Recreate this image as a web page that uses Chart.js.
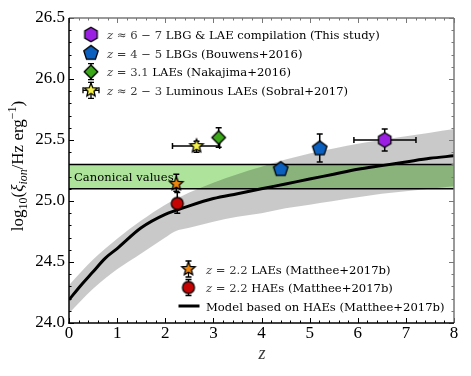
<!DOCTYPE html>
<html lang="en">
<head>
  <meta charset="UTF-8" />
  <title>Ionising photon production efficiency vs redshift</title>
  <script src="https://cdn.jsdelivr.net/npm/chart.js"></script>
  <style>
    body { margin: 0; background: #fff; }
    canvas { display: block; }
  </style>
</head>
<body>
  <canvas id="xiChart" width="471" height="376"></canvas>

  <script>
    // --- data ---
    const xTicks = [0, 1, 2, 3, 4, 5, 6, 7, 8];
    const yTicks = [24.0, 24.5, 25.0, 25.5, 26.0, 26.5];

    // model based on HAEs (Matthee+2017b)
    const modelZ = [0, 0.25, 0.5, 0.75, 1, 1.5, 2, 2.5, 3, 3.5, 4, 4.5, 5, 5.5, 6, 6.5, 7, 7.5, 8];
    const modelXi = [24.19, 24.31, 24.42, 24.53, 24.61, 24.78, 24.89, 24.96, 25.02, 25.06, 25.10, 25.14, 25.18, 25.22, 25.26, 25.29, 25.32, 25.35, 25.37];

    // grey uncertainty band around the model
    const bandZ = [0, 0.5, 1, 1.5, 2, 2.2, 2.5, 3, 3.5, 4, 4.5, 5, 5.5, 6, 6.5, 7, 7.5, 8];
    const bandUpper = [24.31, 24.52, 24.69, 24.84, 24.97, 25.01, 25.07, 25.15, 25.22, 25.28, 25.34, 25.39, 25.43, 25.47, 25.50, 25.53, 25.56, 25.59];
    const bandLower = [24.08, 24.28, 24.44, 24.57, 24.70, 24.75, 24.78, 24.83, 24.87, 24.90, 24.94, 24.97, 25.00, 25.03, 25.06, 25.08, 25.10, 25.12];

    // canonical values band
    const canonical = [25.1, 25.3];

    // measurements: z, log xi, and error ranges
    const lbgLae = [{ x: 6.56, y: 25.50, xMin: 5.92, xMax: 7.21, yMin: 25.41, yMax: 25.59 }];
    const lbgBouwens = [
      { x: 4.40, y: 25.26 },
      { x: 5.21, y: 25.43, yMin: 25.32, yMax: 25.55 }
    ];
    const laeNakajima = [{ x: 3.11, y: 25.52, yMin: 25.44, yMax: 25.60 }];
    const laeSobral = [{ x: 2.65, y: 25.45, xMin: 2.15, xMax: 3.13, yMin: 25.40, yMax: 25.49 }];
    const laeMatthee = [{ x: 2.23, y: 25.14, yMin: 25.08, yMax: 25.22 }];
    const haeMatthee = [{ x: 2.25, y: 24.98, yMin: 24.90, yMax: 25.07 }];

    const SERIF = '"Liberation Serif", "DejaVu Serif", serif';
    const TXT = '"DejaVu Serif", serif';
    const TXT_SIZE = 11.6;

    // marker images (hexagon, pentagon, star... are not built in)
    function polyMarker(n, r, fill, inner) {
      const s = Math.ceil(2 * r + 4);
      const c = document.createElement('canvas');
      c.width = s; c.height = s;
      const g = c.getContext('2d');
      g.translate(s / 2, s / 2);
      g.beginPath();
      if (n === 0) {
        g.arc(0, 0, r, 0, Math.PI * 2);
      } else {
        const pts = inner ? n * 2 : n;
        for (let i = 0; i < pts; i++) {
          const a = -Math.PI / 2 + i * Math.PI * 2 / pts;
          const rr = inner && i % 2 ? r * inner : r;
          g.lineTo(rr * Math.cos(a), rr * Math.sin(a));
        }
        g.closePath();
      }
      g.fillStyle = fill;
      g.fill();
      g.lineWidth = 1.3;
      g.strokeStyle = '#000';
      g.stroke();
      return c;
    }

    const mHex = polyMarker(6, 7.2, '#9b1fe3');
    const mPent = polyMarker(5, 7.6, '#0b5fbf');
    const mDiam = polyMarker(4, 6.8, '#3aa818');
    const mStarY = polyMarker(5, 7, '#f4f24a', 0.45);
    const mStarO = polyMarker(5, 7, '#ec860e', 0.45);
    const mCirc = polyMarker(0, 6, '#c60404');

    function pointSet(data, img) {
      return {
        type: 'scatter', data: data, pointStyle: img, errorBars: true,
        pointRadius: 7, pointHoverRadius: 7, showLine: false, order: 0
      };
    }

    function lineSet(xs, ys, extra) {
      return Object.assign({
        type: 'line',
        data: xs.map((x, i) => ({ x: x, y: ys[i] })),
        pointRadius: 0, pointHoverRadius: 0, tension: 0, borderWidth: 0
      }, extra);
    }

    // error bars, drawn just below the markers of each dataset
    const errorBarPlugin = {
      id: 'errorBars',
      beforeDatasetDraw(chart, args) {
        const ds = chart.data.datasets[args.index];
        if (!ds.errorBars) return;
        const xs = chart.scales.x, ys = chart.scales.y, ctx = chart.ctx;
        ctx.save();
        ctx.strokeStyle = '#000';
        ctx.lineWidth = 1.5;
        const cap = 3;
        ds.data.forEach(p => {
          const px = xs.getPixelForValue(p.x), py = ys.getPixelForValue(p.y);
          ctx.beginPath();
          if (p.yMin !== undefined) {
            const t = ys.getPixelForValue(p.yMax), b = ys.getPixelForValue(p.yMin);
            ctx.moveTo(px, t); ctx.lineTo(px, b);
            ctx.moveTo(px - cap, t); ctx.lineTo(px + cap, t);
            ctx.moveTo(px - cap, b); ctx.lineTo(px + cap, b);
          }
          if (p.xMin !== undefined) {
            const l = xs.getPixelForValue(p.xMin), r = xs.getPixelForValue(p.xMax);
            ctx.moveTo(l, py); ctx.lineTo(r, py);
            ctx.moveTo(l, py - cap); ctx.lineTo(l, py + cap);
            ctx.moveTo(r, py - cap); ctx.lineTo(r, py + cap);
          }
          ctx.stroke();
        });
        ctx.restore();
      }
    };

    // mixed text: upright / italic / sub / superscript pieces
    function fontOf(s, size, fam) {
      return (s.it ? 'italic ' : '') + (size * (s.k || 1)) + 'px ' + fam;
    }
    function richWidth(ctx, segs, size, fam) {
      let w = 0;
      segs.forEach(s => {
        ctx.font = fontOf(s, size, fam);
        w += ctx.measureText(s.t).width;
      });
      return w;
    }
    function drawRich(ctx, x, y, segs, size, fam) {
      ctx.textBaseline = 'alphabetic';
      ctx.textAlign = 'left';
      segs.forEach(s => {
        ctx.font = fontOf(s, size, fam);
        ctx.fillStyle = s.c || '#000';
        ctx.fillText(s.t, x, y + (s.dy || 0));
        x += ctx.measureText(s.t).width;
      });
    }

    const MATH = '#3a3a3a';
    const legendTop = [
      { img: mHex, segs: [{ t: 'z', it: true, c: MATH }, { t: ' ≈ 6 − 7 ', c: MATH }, { t: 'LBG & LAE compilation (This study)' }] },
      { img: mPent, segs: [{ t: 'z', it: true, c: MATH }, { t: ' = 4 − 5 ', c: MATH }, { t: 'LBGs (Bouwens+2016)' }] },
      { img: mDiam, ey: true, segs: [{ t: 'z', it: true, c: MATH }, { t: ' = 3.1 ', c: MATH }, { t: 'LAEs (Nakajima+2016)' }] },
      { img: mStarY, ey: true, ex: true, segs: [{ t: 'z', it: true, c: MATH }, { t: ' ≈ 2 − 3 ', c: MATH }, { t: 'Luminous LAEs (Sobral+2017)' }] }
    ];
    const legendBottom = [
      { img: mStarO, ey: true, segs: [{ t: 'z', it: true, c: MATH }, { t: ' = 2.2 ', c: MATH }, { t: 'LAEs (Matthee+2017b)' }] },
      { img: mCirc, ey: true, segs: [{ t: 'z', it: true, c: MATH }, { t: ' = 2.2 ', c: MATH }, { t: 'HAEs (Matthee+2017b)' }] },
      { line: true, segs: [{ t: 'Model based on HAEs (Matthee+2017b)' }] }
    ];

    function drawLegend(ctx, items, mx, tx, y0, dy) {
      items.forEach((it, i) => {
        const y = y0 + i * dy;
        ctx.save();
        ctx.strokeStyle = '#000';
        if (it.line) {
          ctx.lineWidth = 3;
          ctx.beginPath(); ctx.moveTo(mx - 10, y); ctx.lineTo(mx + 11, y); ctx.stroke();
        } else {
          ctx.lineWidth = 1.3;
          ctx.beginPath();
          if (it.ey) {
            ctx.moveTo(mx, y - 8); ctx.lineTo(mx, y + 8);
            ctx.moveTo(mx - 3, y - 8); ctx.lineTo(mx + 3, y - 8);
            ctx.moveTo(mx - 3, y + 8); ctx.lineTo(mx + 3, y + 8);
          }
          if (it.ex) {
            ctx.moveTo(mx - 8, y); ctx.lineTo(mx + 8, y);
            ctx.moveTo(mx - 8, y - 3); ctx.lineTo(mx - 8, y + 3);
            ctx.moveTo(mx + 8, y - 3); ctx.lineTo(mx + 8, y + 3);
          }
          ctx.stroke();
          ctx.drawImage(it.img, mx - it.img.width / 2, y - it.img.height / 2);
        }
        ctx.restore();
        drawRich(ctx, tx, y + 4.5, it.segs, TXT_SIZE, TXT);
      });
    }

    // frame, inward ticks, labels and legends
    const decorPlugin = {
      id: 'decor',
      afterDraw(chart) {
        const ctx = chart.ctx, a = chart.chartArea;
        const xs = chart.scales.x, ys = chart.scales.y;
        ctx.save();

        // "Canonical values"
        ctx.font = TXT_SIZE + 'px ' + TXT;
        ctx.fillStyle = '#000';
        ctx.textBaseline = 'middle';
        ctx.fillText('Canonical values', 74, ys.getPixelForValue(25.2) + 1);

        // ticks
        function tick(x1, y1, x2, y2, col) {
          ctx.strokeStyle = col;
          ctx.beginPath(); ctx.moveTo(x1, y1); ctx.lineTo(x2, y2); ctx.stroke();
        }
        ctx.lineWidth = 1;
        for (let v = 0; v <= 8.0001; v += 0.2) {
          const px = Math.round(xs.getPixelForValue(v)) + 0.5;
          const major = Math.abs(v - Math.round(v)) < 1e-6;
          const len = major ? 5 : 2.5;
          tick(px, a.bottom, px, a.bottom - len, '#000');
          tick(px, a.top, px, a.top + len, '#777');
        }
        for (let v = 24; v <= 26.5001; v += 0.1) {
          const py = Math.round(ys.getPixelForValue(v)) + 0.5;
          const major = Math.abs(v * 2 - Math.round(v * 2)) < 1e-6;
          const len = major ? 5 : 2.5;
          tick(a.left, py, a.left + len, py, '#000');
          tick(a.right, py, a.right - len, py, '#777');
        }

        // spines
        ctx.lineWidth = 1.5;
        tick(a.left, a.top, a.right, a.top, '#777');
        tick(a.right, a.top, a.right, a.bottom, '#777');
        tick(a.left, a.top, a.left, a.bottom + 0.75, '#000');
        tick(a.left - 0.75, a.bottom, a.right, a.bottom, '#000');

        // axis titles
        ctx.fillStyle = '#000';
        drawRich(ctx, (a.left + a.right) / 2 - 3, 359, [{ t: 'z', it: true, c: MATH }], 18, SERIF);
        const ySegs = [
          { t: 'log' }, { t: '10', k: 0.7, dy: 4 }, { t: '(' }, { t: 'ξ', it: true },
          { t: 'ion', it: true, k: 0.7, dy: 4 }, { t: '/Hz erg' }, { t: '−1', k: 0.7, dy: -7 }, { t: ')' }
        ];
        ctx.translate(18, 166);
        ctx.rotate(-Math.PI / 2);
        const w = richWidth(ctx, ySegs, 17, SERIF);
        drawRich(ctx, -w / 2, 5, ySegs, 17, SERIF);
        ctx.restore();

        drawLegend(ctx, legendTop, 91, 107, 34.5, 18.6);
        drawLegend(ctx, legendBottom, 188.5, 206, 269, 18.5);
      }
    };

    const datasets = [
      pointSet(lbgLae, mHex),
      pointSet(lbgBouwens, mPent),
      pointSet(laeNakajima, mDiam),
      pointSet(laeSobral, mStarY),
      pointSet(laeMatthee, mStarO),
      pointSet(haeMatthee, mCirc),
      lineSet(modelZ, modelXi, { borderColor: '#000', borderWidth: 3, fill: false, order: 10, cubicInterpolationMode: 'monotone' }),
      lineSet([0, 8], [canonical[1], canonical[1]], { borderColor: '#000', borderWidth: 1.5, fill: false, order: 20 }),
      lineSet([0, 8], [canonical[0], canonical[0]], { borderColor: '#000', borderWidth: 1.5, fill: false, order: 20 }),
      lineSet(bandZ, bandUpper, { fill: '+1', backgroundColor: 'rgba(0,0,0,0.21)', order: 30, cubicInterpolationMode: 'monotone' }),
      lineSet(bandZ, bandLower, { fill: false, order: 31, cubicInterpolationMode: 'monotone' }),
      lineSet([0, 8], [canonical[1], canonical[1]], { fill: { value: canonical[0] }, backgroundColor: '#aee39b', order: 40 })
    ];

    new Chart(document.getElementById('xiChart'), {
      type: 'scatter',
      data: { datasets: datasets },
      plugins: [errorBarPlugin, decorPlugin],
      options: {
        responsive: false,
        animation: false,
        devicePixelRatio: 1,
        layout: { padding: { top: 18, right: 17, left: 0, bottom: 0 } },
        plugins: { legend: { display: false }, tooltip: { enabled: false } },
        scales: {
          x: {
            type: 'linear', min: 0, max: 8,
            afterFit(scale) { scale.height = 53; },
            afterBuildTicks(scale) { scale.ticks = xTicks.map(v => ({ value: v })); },
            grid: { display: false, drawTicks: false }, border: { display: false },
            ticks: { color: '#000', padding: 0, font: { family: SERIF, size: 17 }, callback: v => v.toFixed(0) }
          },
          y: {
            type: 'linear', min: 24, max: 26.5,
            afterFit(scale) { scale.width = 69; },
            afterBuildTicks(scale) { scale.ticks = yTicks.map(v => ({ value: v })); },
            grid: { display: false, drawTicks: false }, border: { display: false },
            ticks: { color: '#000', padding: 4, font: { family: SERIF, size: 17 }, callback: v => v.toFixed(1) }
          }
        }
      }
    });
  </script>
</body>
</html>
